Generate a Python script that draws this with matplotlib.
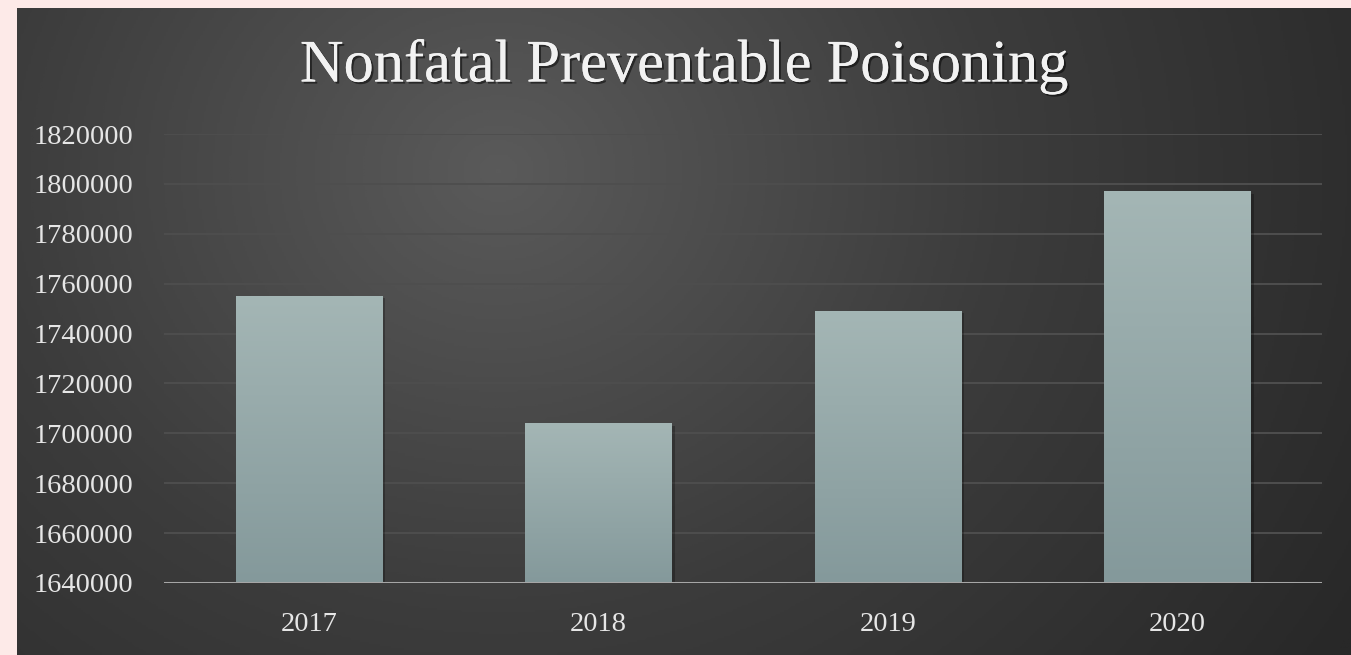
import numpy as np
import matplotlib
matplotlib.use("Agg")
import matplotlib.pyplot as plt
import matplotlib.patheffects as pe
from matplotlib.colors import LinearSegmentedColormap

years = ["2017", "2018", "2019", "2020"]
poisonings = [1755000, 1704000, 1749000, 1797000]
y_ticks = list(range(1640000, 1820001, 20000))

W, H = 1351, 655
fig = plt.figure(figsize=(W / 100, H / 100), dpi=100)
fig.patch.set_facecolor("#fdeae8")

# dark panel with radial gradient
bg = fig.add_axes([17 / W, 0, 1 - 17 / W, 1 - 8 / H])
bg.set_axis_off()
yy, xx = np.mgrid[0:300, 0:600]
cx, cy = 0.36 * 600, 0.25 * 300
r = np.hypot((xx - cx) / 600, (yy - cy) / 300 * 0.55)
r = np.clip(r / 0.75, 0, 1)
panel_cmap = LinearSegmentedColormap.from_list("panel", ["#5a5a5a", "#3c3c3c", "#282828"])
bg.imshow(r, cmap=panel_cmap, aspect="auto", extent=[0, 1, 0, 1], vmin=0, vmax=1)
bg.set_xlim(0, 1)
bg.set_ylim(0, 1)

ax = fig.add_axes([164 / W, (H - 583) / H, (1322 - 164) / W, (583 - 134) / H])
ax.patch.set_alpha(0)
x = np.arange(len(years))
width = 0.505

for yt in y_ticks[1:]:
    ax.axhline(yt, color="#4e4e4e", lw=1.4, zorder=1)

bar_cmap = LinearSegmentedColormap.from_list("bar", ["#a4b6b5", "#84999b"])
grad = np.linspace(0, 1, 256).reshape(-1, 1)
for xi, v in zip(x, poisonings):
    # soft shadow
    ax.bar(xi + 0.012, v - y_ticks[0], width, bottom=y_ticks[0] - 900,
           color="black", alpha=0.25, zorder=2)
    ax.imshow(grad, cmap=bar_cmap, aspect="auto", zorder=3,
              extent=[xi - width / 2, xi + width / 2, y_ticks[0], v])
ax.set_xlim(-0.5, len(years) - 0.5)
ax.set_ylim(y_ticks[0], y_ticks[-1])

ax.axhline(y_ticks[0], color="#a6a6a6", lw=2.2, zorder=4)

for s in ax.spines.values():
    s.set_visible(False)
ax.set_xticks(x)
ax.set_xticklabels(years)
ax.set_yticks(y_ticks)
ax.set_yticklabels([str(t) for t in y_ticks])
ax.tick_params(length=0, colors="#e6e6e6", labelsize=20.5)
ax.tick_params(axis="x", pad=21)
ax.tick_params(axis="y", pad=22)
for lab in ax.get_xticklabels() + ax.get_yticklabels():
    lab.set_fontfamily("Liberation Serif")

fig.text(684 / W, 1 - 67 / H, "Nonfatal Preventable Poisoning", ha="center", va="center",
         fontsize=43.5, color="#f2f2f2", fontfamily="Liberation Serif",
         path_effects=[pe.withSimplePatchShadow(offset=(1.5, -1.5), shadow_rgbFace="black", alpha=0.5),
                       pe.Normal()])

fig.savefig("out.png", dpi=100, facecolor=fig.get_facecolor())
